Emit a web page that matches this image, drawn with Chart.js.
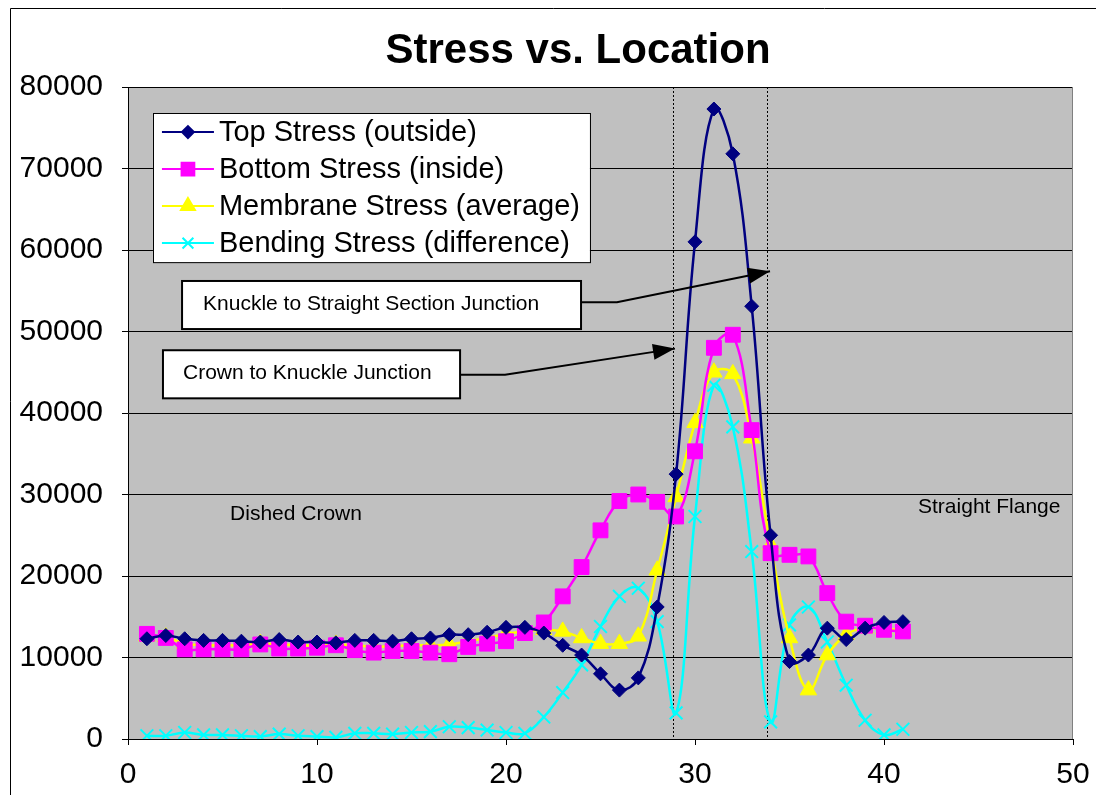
<!DOCTYPE html>
<html>
<head>
<meta charset="utf-8">
<script src="https://cdn.jsdelivr.net/npm/chart.js@4"></script>
<style>
  html, body { margin: 0; padding: 0; background: #fff; }
  #wrap { width: 1096px; height: 795px; }
</style>
</head>
<body>
<div id="wrap"><canvas id="myChart"></canvas></div>
<script>
// location along the head
const location_ = [1, 2, 3, 4, 5, 6, 7, 8, 9, 10, 11, 12, 13, 14, 15, 16, 17, 18, 19, 20,
  21, 22, 23, 24, 25, 26, 27, 28, 29, 30, 31, 32, 33, 34, 35, 36, 37, 38, 39, 40, 41];

const topStress = [12300, 12700, 12300, 12100, 12100, 12000, 11900, 12200, 11900, 11900,
  11800, 12100, 12100, 12000, 12300, 12400, 12800, 12800, 13100, 13700,
  13700, 13000, 11500, 10300, 8000, 6000, 7500, 16200, 32500, 61000,
  77300, 71800, 53100, 25000, 9500, 10300, 13600, 12200, 13600, 14300, 14400];

const bottomStress = [12900, 12400, 11000, 11000, 11000, 11000, 11600, 11100, 11100, 11200,
  11500, 10900, 10600, 10800, 10800, 10600, 10400, 11300, 11700, 12000,
  13000, 14300, 17500, 21100, 25600, 29200, 30000, 29100, 27300, 35300,
  48000, 49600, 37900, 22800, 22600, 22400, 17900, 14400, 13900, 13400, 13200];

const membraneStress = [12600, 12500, 11700, 11500, 11500, 11500, 11700, 11600, 11500, 11500,
  11600, 11500, 11300, 11400, 11500, 11500, 11600, 12000, 12400, 12900,
  13200, 13400, 13200, 12400, 11700, 11700, 12600, 20700, 29700, 38800,
  45000, 44800, 36900, 23800, 12400, 6000, 10300, 12800, 13600, 13500, 13400];

const bendingStress = [400, 400, 800, 500, 500, 400, 300, 600, 400, 300,
  200, 700, 700, 600, 800, 900, 1500, 1400, 1100, 800,
  700, 2700, 5700, 9100, 13800, 17500, 18500, 14400, 3200, 27300,
  43400, 38300, 23000, 2100, 14000, 16200, 11900, 6600, 2300, 500, 1200];

const seriesNames = ["Top Stress (outside)", "Bottom Stress (inside)",
  "Membrane Stress (average)", "Bending Stress (difference)"];

// junction locations (dotted lines)
const junctions = [28.85, 33.8];

const FONT = 'Arial, "Liberation Sans", sans-serif';

function pts(ys) {
  return location_.map((x, i) => ({ x: x, y: ys[i] }));
}

function series(label, ys, color, style, radius) {
  return {
    label: label,
    data: pts(ys),
    borderColor: color,
    backgroundColor: color,
    borderWidth: 2.5,
    pointStyle: style,
    pointRadius: radius,
    pointHoverRadius: radius,
    pointBorderWidth: style === 'crossRot' ? 2 : 1,
    showLine: true,
    tension: 0.4
  };
}

const datasets = [
  series(seriesNames[0], topStress, '#000080', 'rectRot', 7),
  series(seriesNames[1], bottomStress, '#FF00FF', 'rect', 10.5),
  series(seriesNames[2], membraneStress, '#FFFF00', 'triangle', 9.5),
  series(seriesNames[3], bendingStress, '#00FFFF', 'crossRot', 9)
];

function textBox(ctx, sx, sy, x1, y1, x2, y2, label, tx, ty) {
  const L = sx.getPixelForValue(x1), T = sy.getPixelForValue(y1);
  const R = sx.getPixelForValue(x2), B = sy.getPixelForValue(y2);
  ctx.fillStyle = '#fff';
  ctx.fillRect(L, T, R - L, B - T);
  ctx.strokeStyle = '#000';
  ctx.lineWidth = 2;
  ctx.strokeRect(L, T, R - L, B - T);
  ctx.fillStyle = '#000';
  ctx.font = '21px ' + FONT;
  ctx.textAlign = 'left';
  ctx.textBaseline = 'middle';
  ctx.fillText(label, sx.getPixelForValue(tx), sy.getPixelForValue(ty));
}

function arrow(ctx, sx, sy, path) {
  const p = path.map(d => [sx.getPixelForValue(d[0]), sy.getPixelForValue(d[1])]);
  ctx.strokeStyle = '#000';
  ctx.lineWidth = 2;
  ctx.beginPath();
  ctx.moveTo(p[0][0], p[0][1]);
  for (let i = 1; i < p.length; i++) ctx.lineTo(p[i][0], p[i][1]);
  ctx.stroke();
  const a = p[p.length - 2], b = p[p.length - 1];
  const ang = Math.atan2(b[1] - a[1], b[0] - a[0]);
  const len = 22, w = 8;
  ctx.fillStyle = '#000';
  ctx.beginPath();
  ctx.moveTo(b[0], b[1]);
  ctx.lineTo(b[0] - len * Math.cos(ang) + w * Math.sin(ang), b[1] - len * Math.sin(ang) - w * Math.cos(ang));
  ctx.lineTo(b[0] - len * Math.cos(ang) - w * Math.sin(ang), b[1] - len * Math.sin(ang) + w * Math.cos(ang));
  ctx.closePath();
  ctx.fill();
}

const decorations = {
  id: 'decorations',
  beforeDraw(chart) {
    const ctx = chart.ctx, a = chart.chartArea;
    ctx.save();
    ctx.fillStyle = '#fff';
    ctx.fillRect(0, 0, chart.width, chart.height);
    // outer frame
    ctx.strokeStyle = '#000';
    ctx.lineWidth = 1;
    ctx.beginPath();
    ctx.moveTo(10.5, chart.height);
    ctx.lineTo(10.5, 8.5);
    ctx.lineTo(chart.width, 8.5);
    ctx.stroke();
    // title
    ctx.fillStyle = '#000';
    ctx.font = 'bold 42px ' + FONT;
    ctx.textAlign = 'center';
    ctx.textBaseline = 'middle';
    ctx.fillText('Stress vs. Location', 578, 51);
    ctx.fillStyle = '#C0C0C0';
    ctx.fillRect(a.left, a.top, a.right - a.left, a.bottom - a.top);
    ctx.restore();
  },
  beforeDatasetsDraw(chart) {
    const ctx = chart.ctx, a = chart.chartArea, sx = chart.scales.x;
    ctx.save();
    // plot right border
    ctx.strokeStyle = '#808080';
    ctx.lineWidth = 1;
    ctx.beginPath();
    ctx.moveTo(Math.round(a.right) - 0.5, a.top);
    ctx.lineTo(Math.round(a.right) - 0.5, a.bottom);
    ctx.stroke();
    ctx.strokeStyle = '#000';
    ctx.setLineDash([2, 2]);
    junctions.forEach(j => {
      const x = Math.round(sx.getPixelForValue(j)) + 0.5;
      ctx.beginPath();
      ctx.moveTo(x, a.top);
      ctx.lineTo(x, a.bottom);
      ctx.stroke();
    });
    ctx.restore();
  },
  afterDatasetsDraw(chart) {
    const ctx = chart.ctx, sx = chart.scales.x, sy = chart.scales.y;
    ctx.save();
    // region labels
    ctx.fillStyle = '#000';
    ctx.font = '21px ' + FONT;
    ctx.textBaseline = 'middle';
    ctx.textAlign = 'left';
    ctx.fillText('Dished Crown', sx.getPixelForValue(5.4), sy.getPixelForValue(27600));
    ctx.fillText('Straight Flange', sx.getPixelForValue(41.8), sy.getPixelForValue(28500));

    // junction callouts
    arrow(ctx, sx, sy, [[23.97, 53600], [25.87, 53600], [33.97, 57400]]);
    arrow(ctx, sx, sy, [[17.57, 44700], [19.95, 44700], [28.94, 47900]]);
    textBox(ctx, sx, sy, 2.86, 56200, 23.97, 50300, 'Knuckle to Straight Section Junction', 3.97, 53400);
    textBox(ctx, sx, sy, 1.85, 47700, 17.57, 41800, 'Crown to Knuckle Junction', 2.91, 44900);

    // legend
    const L = sx.getPixelForValue(1.32), T = sy.getPixelForValue(76800);
    const R = sx.getPixelForValue(24.44), B = sy.getPixelForValue(58500);
    ctx.fillStyle = '#fff';
    ctx.fillRect(L, T, R - L, B - T);
    ctx.strokeStyle = '#000';
    ctx.lineWidth = 1;
    ctx.strokeRect(Math.round(L) + 0.5, Math.round(T) + 0.5, R - L, B - T);
    ctx.font = '29px ' + FONT;
    chart.data.datasets.forEach((ds, i) => {
      const y = T + 19 + i * 37;
      ctx.strokeStyle = ds.borderColor;
      ctx.lineWidth = 2;
      ctx.beginPath();
      ctx.moveTo(L + 9, y);
      ctx.lineTo(L + 61, y);
      ctx.stroke();
      Chart.helpers.drawPoint(ctx, {
        pointStyle: ds.pointStyle,
        radius: ds.pointStyle === 'rect' ? 9 : ds.pointRadius * 0.85,
        borderWidth: ds.pointStyle === 'crossRot' ? 2 : 1
      }, L + 35, y);
      if (ds.pointStyle !== 'crossRot') {
        ctx.fillStyle = ds.backgroundColor;
        ctx.fill();
      }
      ctx.fillStyle = '#000';
      ctx.fillText(ds.label, L + 66, y + 1);
    });
    ctx.restore();
  }
};

new Chart(document.getElementById('myChart').getContext('2d'), {
  type: 'scatter',
  data: { datasets: datasets },
  options: {
    responsive: true,
    maintainAspectRatio: false,
    animation: false,
    layout: { padding: { left: 10, right: 23, top: 87, bottom: 0 } },
    plugins: {
      legend: { display: false },
      tooltip: { enabled: false },
      title: { display: false }
    },
    scales: {
      x: {
        type: 'linear',
        min: 0, max: 50,
        border: { color: '#000', width: 1 },
        grid: { drawOnChartArea: false, drawTicks: true, tickLength: 6, color: '#000' },
        ticks: { stepSize: 10, color: '#000', font: { family: FONT, size: 30 }, padding: 12, maxRotation: 0 },
        afterFit(s) { s.height = 56; s.paddingLeft = 0; s.paddingRight = 0; }
      },
      y: {
        min: 0, max: 80000,
        border: { color: '#000', width: 1 },
        grid: { color: '#000', tickLength: 6 },
        ticks: {
          stepSize: 10000, color: '#000', font: { family: FONT, size: 30 }, padding: 19,
          callback: v => String(v)
        },
        afterFit(s) { s.width = 118; s.paddingTop = 0; s.paddingBottom = 0; }
      }
    }
  },
  plugins: [decorations]
});
</script>
</body>
</html>
